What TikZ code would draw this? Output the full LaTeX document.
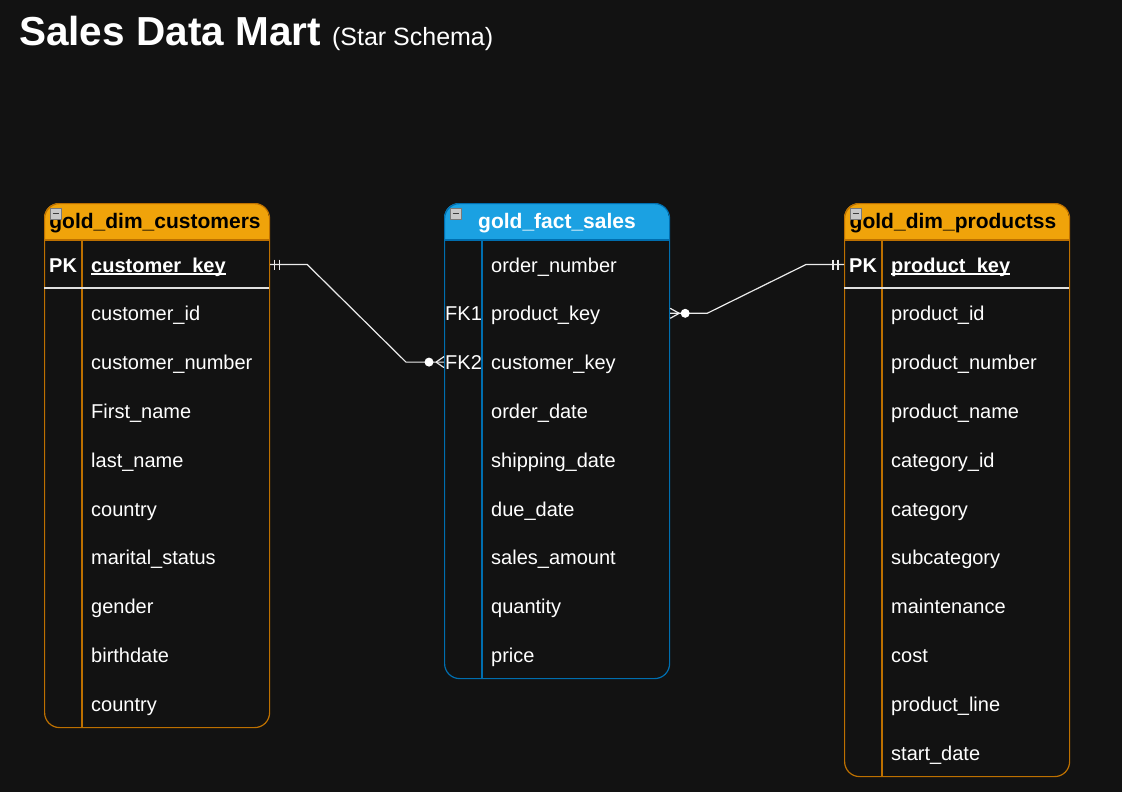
\documentclass[tikz,border=0pt]{standalone}
\usepackage{fontspec}
\setmainfont{Liberation Sans}
\definecolor{bg}{HTML}{121212}
\definecolor{orgfill}{HTML}{F0A30A}
\definecolor{orgline}{HTML}{BD7000}
\definecolor{bluefill}{HTML}{1BA1E2}
\definecolor{blueline}{HTML}{006EAF}
\definecolor{iconfill}{HTML}{C8C8C8}
\definecolor{iconline}{HTML}{7A7A7A}
\begin{document}
\begin{tikzpicture}[x=1pt,y=-1pt,
  field/.style={anchor=base west, inner sep=0pt, text=white, font=\fontsize{20}{24}\selectfont},
  keyfield/.style={field, font=\bfseries\fontsize{20}{24}\selectfont},
  hdrtext/.style={anchor=base, inner sep=0pt, font=\bfseries\fontsize{21}{24}\selectfont},
  tablebox/.style={draw=#1, line width=1.2pt, rounded corners=15pt, anchor=north west, inner sep=0pt, minimum width=225pt},
  divline/.style={draw=#1, line width=1.2pt},
  sepline/.style={draw=white!88!black, line width=1.6pt},
  conn/.style={draw=white!92!black, line width=1.2pt},
  icon/.style={fill=iconfill, draw=iconline, line width=0.8pt},
  dotend/.style={fill=white, draw=none},
]
\useasboundingbox (0,0) rectangle (1122,792);
\fill[bg] (0,0) rectangle (1122,792);

% Title
\node[anchor=base west, inner sep=0pt, text=white] (title) at (19,45.5)
  {\fontsize{40.5}{48}\selectfont\bfseries Sales Data Mart \fontsize{25}{30}\selectfont\mdseries(Star Schema)};

% ---------------- Customers table ----------------
\begin{scope}
  \clip[rounded corners=15pt] (44,203) rectangle (269,727);
  \fill[orgfill] (44,203) rectangle (269,240);
\end{scope}
\node[tablebox=orgline, minimum height=524pt] (cust) at (44,203) {};
\draw[divline=orgline] (44,240) -- (269,240);
\draw[divline=orgline] (82,240) -- (82,727);
\draw[sepline] (44,288) -- (269,288);
\node[hdrtext, text=black] (custhdr) at (155,228.5) {gold\_dim\_customers};
\draw[icon] (50,208) rectangle (61,219);
\draw[iconline!50!black, line width=1.2pt] (52.5,213.5) -- (58.5,213.5);
\node[keyfield] (cpk) at (49,272) {PK};
\node[keyfield] (ckey) at (91,272) {customer\_key};
\draw[white, line width=1.6pt] ([yshift=-2pt]ckey.base west) -- ([yshift=-2pt]ckey.base east);
\foreach \t [count=\i] in {customer\_id, customer\_number, First\_name, last\_name, country, marital\_status, gender, birthdate, country}
  \node[field] (c\i) at (91,{265+48.8*\i+7}) {\t};

% ---------------- Fact table ----------------
\begin{scope}
  \clip[rounded corners=15pt] (444,203) rectangle (669,678);
  \fill[bluefill] (444,203) rectangle (669,240);
\end{scope}
\node[tablebox=blueline, minimum height=475pt] (fact) at (444,203) {};
\draw[divline=blueline] (444,240) -- (669,240);
\draw[divline=blueline] (482,240) -- (482,678);
\node[hdrtext, text=white] (facthdr) at (557,228.5) {gold\_fact\_sales};
\draw[icon] (450,208) rectangle (461,219);
\draw[iconline!50!black, line width=1.2pt] (452.5,213.5) -- (458.5,213.5);
\foreach \t [count=\i from 0] in {order\_number, product\_key, customer\_key, order\_date, shipping\_date, due\_date, sales\_amount, quantity, price}
  \node[field] (f\i) at (491,{265+48.8*\i+7}) {\t};
\node[field] (fk1) at (445,{265+48.8+7}) {FK1};
\node[field] (fk2) at (445,{265+2*48.8+7}) {FK2};

% ---------------- Products table ----------------
\begin{scope}
  \clip[rounded corners=15pt] (844,203) rectangle (1069,776);
  \fill[orgfill] (844,203) rectangle (1069,240);
\end{scope}
\node[tablebox=orgline, minimum height=573pt] (prod) at (844,203) {};
\draw[divline=orgline] (844,240) -- (1069,240);
\draw[divline=orgline] (882,240) -- (882,776);
\draw[sepline] (844,288) -- (1069,288);
\node[hdrtext, text=black] (prodhdr) at (953,228.5) {gold\_dim\_productss};
\draw[icon] (850,208) rectangle (861,219);
\draw[iconline!50!black, line width=1.2pt] (852.5,213.5) -- (858.5,213.5);
\node[keyfield] (ppk) at (849,272) {PK};
\node[keyfield] (pkey) at (891,272) {product\_key};
\draw[white, line width=1.6pt] ([yshift=-2pt]pkey.base west) -- ([yshift=-2pt]pkey.base east);
\foreach \t [count=\i] in {product\_id, product\_number, product\_name, category\_id, category, subcategory, maintenance, cost, product\_line, start\_date}
  \node[field] (p\i) at (891,{265+48.8*\i+7}) {\t};

% ---------------- Row anchor coordinates ----------------
\coordinate (custPKend) at ([yshift=7.5pt]cust.east |- ckey.base);
\coordinate (factFKtwo) at ([yshift=7.5pt]fact.west |- fk2.base);
\coordinate (factFKone) at ([yshift=7.5pt]fact.east |- f1.base);
\coordinate (prodPKend) at ([yshift=7.5pt]prod.west |- pkey.base);

% ---------------- Connector 1: customers -> fact ----------------
\draw[conn] (custPKend) -- ([xshift=37pt]custPKend) -- ([xshift=-38pt]factFKtwo) -- (factFKtwo);
\draw[conn] ([xshift=4pt]custPKend) ++(0,-5) -- ++(0,10);
\draw[conn] ([xshift=9pt]custPKend) ++(0,-5) -- ++(0,10);
\fill[dotend] ([xshift=-15pt]factFKtwo) circle (4.5pt);
\draw[conn] ([xshift=-8pt]factFKtwo) -- ([yshift=5.5pt]factFKtwo);
\draw[conn] ([xshift=-8pt]factFKtwo) -- ([yshift=-5.5pt]factFKtwo);

% ---------------- Connector 2: fact -> products ----------------
\draw[conn] (factFKone) -- ([xshift=37pt]factFKone) -- ([xshift=-38pt]prodPKend) -- (prodPKend);
\fill[dotend] ([xshift=15pt]factFKone) circle (4.5pt);
\draw[conn] ([xshift=9pt]factFKone) -- ([yshift=5pt]factFKone);
\draw[conn] ([xshift=9pt]factFKone) -- ([yshift=-5pt]factFKone);
\draw[conn] ([xshift=-11pt]prodPKend) ++(0,-5) -- ++(0,10);
\draw[conn] ([xshift=-6pt]prodPKend) ++(0,-5) -- ++(0,10);
\end{tikzpicture}
\end{document}
